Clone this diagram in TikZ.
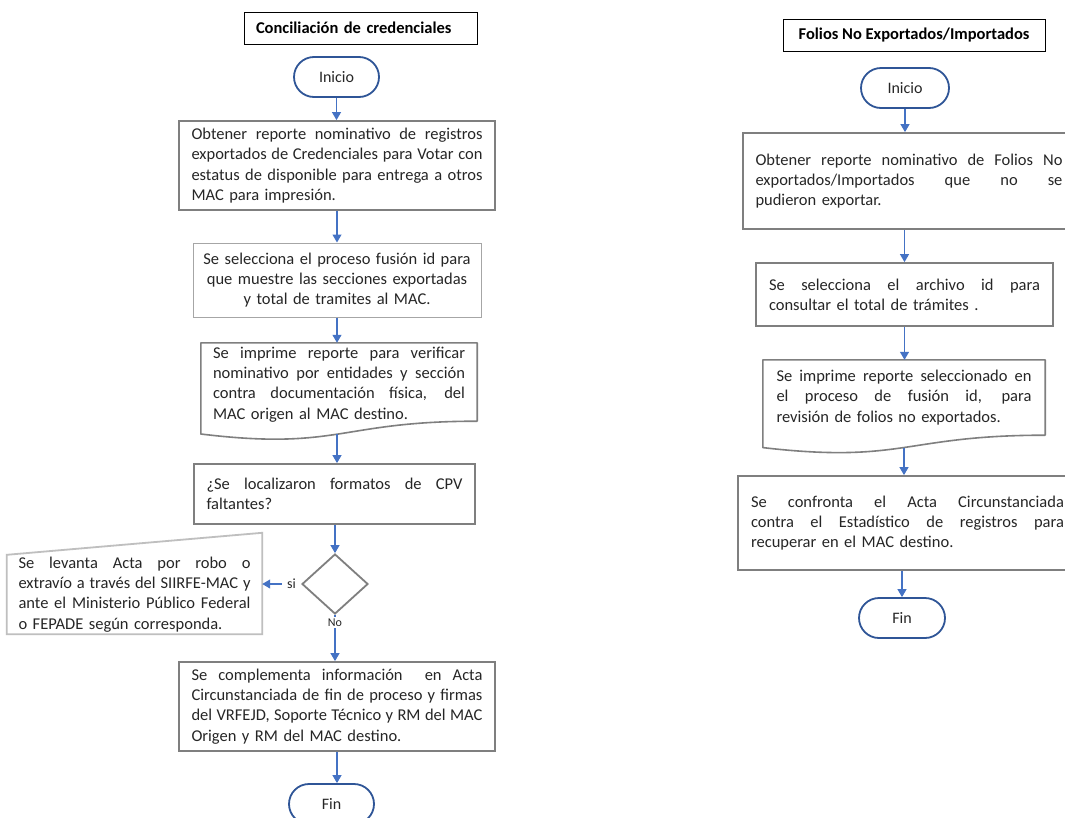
\documentclass[tikz,border=0pt]{standalone}
\usepackage{fontspec}
\setmainfont{Carlito}
\usetikzlibrary{shapes.geometric,arrows.meta,calc}
\setlength{\parindent}{0pt}
\newlength{\jw}
\newcommand{\jl}[1]{\makebox[\jw][s]{\spaceskip=0pt\xspaceskip=0pt #1}}
\definecolor{boxgray}{HTML}{7F7F7F}
\definecolor{lightbox}{HTML}{A6A6A6}
\definecolor{manualgray}{HTML}{BFBFBF}
\definecolor{termblue}{HTML}{2F5597}
\definecolor{arrblue}{HTML}{4472C4}
\definecolor{txt}{HTML}{262626}
\tikzset{
  tw/.style={text width=#1, execute at begin node={\setlength{\jw}{#1}}},
  bodyfont/.style={font=\fontsize{16.5}{20.3}\selectfont},
  box/.style={draw=boxgray, line width=1.8pt, inner sep=0pt, align=left, text=txt, bodyfont},
  docn/.style={inner sep=0pt, align=left, text=txt, bodyfont},
  docline/.style={draw=boxgray, line width=1.6pt, line join=round},
  mline/.style={draw=manualgray, line width=1.8pt},
  titlebox/.style={draw=black, line width=1pt, inner sep=0pt, text=black, font=\fontsize{16.5}{19}\selectfont\bfseries},
  term/.style={draw=termblue, line width=1.8pt, rounded corners=20pt, minimum width=85pt, minimum height=40pt, inner sep=0pt, text=txt, font=\fontsize{16}{19}\selectfont},
  dia/.style={diamond, draw=boxgray, line width=1.8pt, inner sep=0pt},
  arr/.style={draw=arrblue, line width=1.1pt, -{Triangle[width=9pt,length=8pt]}},
  lbl/.style={fill=white, inner ysep=1.5pt, inner xsep=5pt, text=txt}
}
\begin{document}
\begin{tikzpicture}[x=1pt,y=-1pt]
\clip (0,0) rectangle (1065,817);
\fill[white] (0,0) rectangle (1065,817);

% ---------- left column ----------
\node[titlebox, minimum width=233pt, minimum height=32pt, text width=209pt, align=left] (tL) at (360.5,28) {Conciliación de credenciales};
\node[term] (iniL) at (336.5,77) {Inicio};
\node[box, minimum width=316pt, minimum height=89pt, tw=291pt] (b1) at (337,165.5)
  {\jl{Obtener reporte nominativo de registros}\\ \jl{exportados de Credenciales para Votar con}\\ \jl{estatus de disponible para entrega a otros}\\ MAC para impresión.};
\node[box, draw=lightbox, line width=1pt, align=center, text width=270pt, minimum width=288pt, minimum height=74pt] (b2) at (337,280)
  {Se selecciona el proceso fusión id para\\ que muestre las secciones exportadas\\ y total de tramites al MAC.};
\node[docn, minimum width=276pt, minimum height=83pt, tw=252pt] (b3) at (339,384.5)
  {\jl{Se imprime reporte para verificar}\\ \jl{nominativo por entidades y sección}\\ \jl{contra documentación física, del}\\ MAC origen al MAC destino.};
\coordinate (b3s) at ($(b3.south)+(0,-5)$);
\coordinate (b3se) at ($(b3.south east)+(0,-5)$);
\coordinate (b3sw) at ($(b3.south west)+(0,-5)$);
\draw[docline] (b3se) -- (b3.north east) -- (b3.north west) -- ($(b3sw)+(0,12.8)$)
  .. controls ($(b3s)+(0,29.6)$) and (b3s) .. (b3se) -- cycle;
\coordinate (b3w) at ($(b3s)+(-2,12.7)$);
\node[box, minimum width=281pt, minimum height=60pt, tw=256pt] (b4) at (334.5,494)
  {\jl{¿Se localizaron formatos de CPV}\\ faltantes?};
\node[dia, minimum width=66pt, minimum height=60pt] (d) at (335,584) {};
\node[docn, minimum width=255pt, minimum height=79pt, tw=232pt] (lb) at (134.5,594.5)
  {\jl{Se levanta Acta por robo o}\\ \jl{extravío a través del SIIRFE-MAC y}\\ \jl{ante el Ministerio Público Federal}\\ o FEPADE según corresponda.};
\draw[mline] (lb.south west) -- (lb.north west) -- ($(lb.north east)+(0,-22)$) -- (lb.south east) -- cycle;
\node[box, minimum width=316pt, minimum height=89pt, tw=291pt] (b5) at (337,706.5)
  {\jl{Se complementa información\ \ en Acta}\\ \jl{Circunstanciada de fin de proceso y firmas}\\ \jl{del VRFEJD, Soporte Técnico y RM del MAC}\\ Origen y RM del MAC destino.};
\node[term] (finL) at (331.5,804) {Fin};

\draw[arr] (iniL.south) -- (iniL.south |- b1.north);
\draw[arr] (b1.south) -- (b1.south |- b2.north);
\draw[arr] (b2.south) -- (b2.south |- b3.north);
\draw[arr] (b3w) -- (b3w |- b4.north);
\draw[arr] (b4.south -| d.north) -- (d.north);
\draw[arr] (d.west) -- node[lbl, pos=0.25, font=\fontsize{14}{16}\selectfont] {si} (d.west -| lb.east);
\draw[arr] (d.south) -- node[lbl, inner xsep=1.5pt, pos=0.17, font=\fontsize{12}{14}\selectfont] {No} (d.south |- b5.north);
\draw[arr] (b5.south) -- (b5.south |- finL.north);

% ---------- right column ----------
\node[titlebox, minimum width=262pt, minimum height=32pt] (tR) at (914,35) {Folios No Exportados/Importados};
\node[term, minimum width=88pt] (iniR) at (905,88) {Inicio};
\node[box, minimum width=332pt, minimum height=96pt, tw=307pt] (r1) at (909,181)
  {\jl{Obtener reporte nominativo de Folios No}\\ \jl{exportados/Importados que no se}\\ pudieron exportar.};
\node[box, minimum width=297pt, minimum height=63pt, tw=271pt] (r2) at (904.5,294.5)
  {\jl{Se selecciona el archivo id para}\\ consultar el total de trámites .};
\node[docn, minimum width=282pt, minimum height=75pt, tw=255pt] (r3) at (904,397.5)
  {\jl{Se imprime reporte seleccionado en}\\ \jl{el proceso de fusión id, para}\\ revisión de folios no exportados.};
\draw[docline] (r3.south east) -- (r3.north east) -- (r3.north west) -- ($(r3.south west)+(0,12.4)$)
  .. controls ($(r3.south)+(0,28.7)$) and (r3.south) .. (r3.south east) -- cycle;
\coordinate (r3w) at ($(r3.south)+(0,12.3)$);
\node[box, minimum width=339pt, minimum height=94pt, tw=313pt] (r4) at (907.5,523)
  {\jl{Se confronta el Acta Circunstanciada}\\ \jl{contra el Estadístico de registros para}\\ recuperar en el MAC destino.};
\node[term, minimum width=86pt] (finR) at (902,618) {Fin};

\draw[arr] (iniR.south) -- (iniR.south |- r1.north);
\draw[arr] (r1.south -| r2.north) -- (r2.north);
\draw[arr] (r2.south) -- (r2.south |- r3.north);
\draw[arr] (r3w) -- (r3w |- r4.north);
\draw[arr] (r4.south -| finR.north) -- (finR.north);
\end{tikzpicture}
\end{document}
